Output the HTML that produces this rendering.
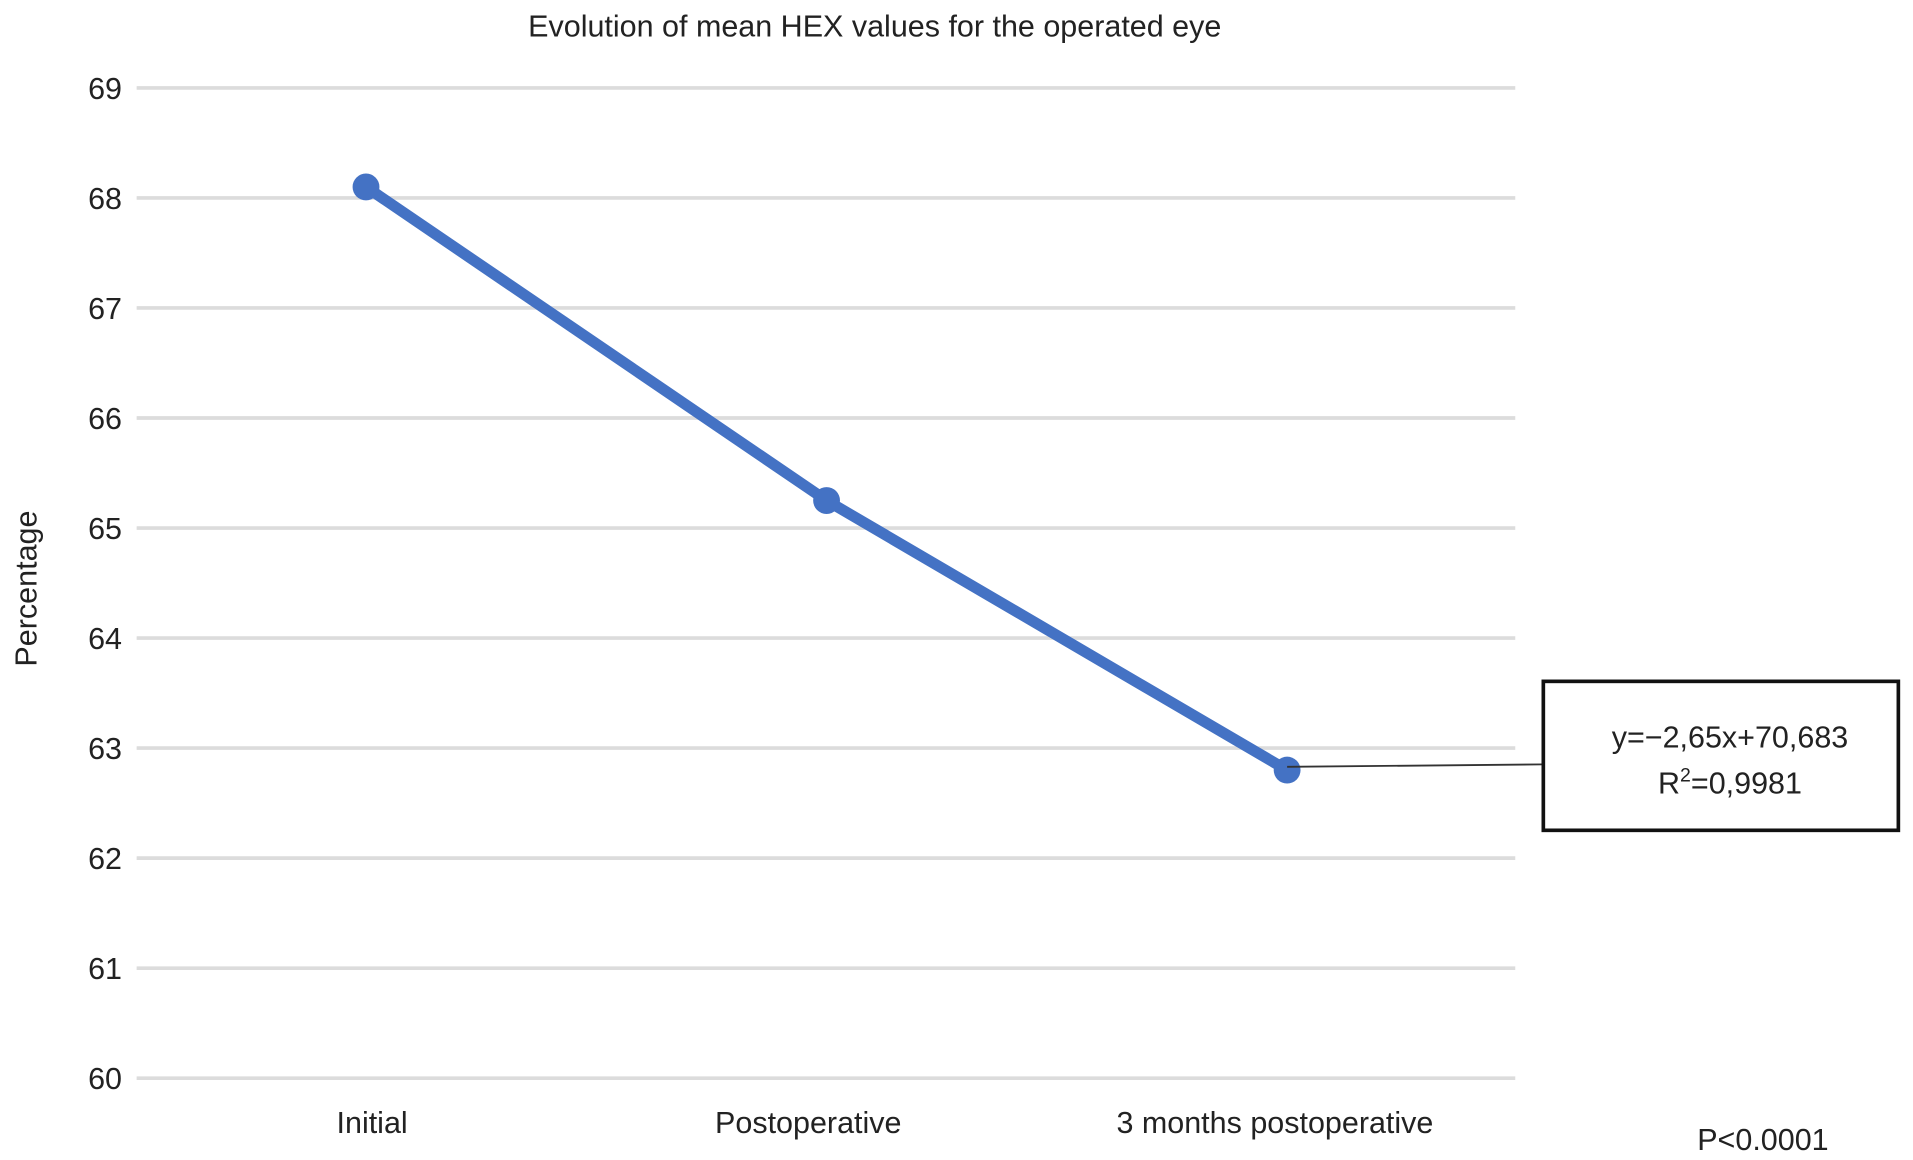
<!DOCTYPE html>
<html><head><meta charset="utf-8"><style>html,body{margin:0;padding:0;background:#fff}svg{display:block}text{font-family:"Liberation Sans",sans-serif;fill:#222}</style></head>
<body>
<svg id="chart" width="1913" height="1160" viewBox="0 0 1568 950" preserveAspectRatio="none" xmlns="http://www.w3.org/2000/svg">
<text x="717" y="30" font-size="25" text-anchor="middle">Evolution of mean HEX values for the operated eye</text>
<text transform="translate(30,482) rotate(-90)" font-size="25" text-anchor="middle">Percentage</text>
<g id="grid"></g><g id="series"></g>
<line x1="1055" y1="628" x2="1265" y2="626" stroke="#333" stroke-width="1.5"/>
<rect x="1265" y="558" width="291" height="122" fill="#fff" stroke="#111" stroke-width="3"/>
<text x="1418" y="612" font-size="25" text-anchor="middle">y=−2,65x+70,683</text>
<text x="1418" y="650" font-size="25" text-anchor="middle">R<tspan dy="-10" font-size="16">2</tspan><tspan dy="10">=0,9981</tspan></text>
<text x="1445" y="942" font-size="25" text-anchor="middle">P&lt;0.0001</text>
</svg>
<script>
const categories=["Initial","Postoperative","3 months postoperative"];
const values=[68.1,65.25,62.8];
const yTicks=[60,61,62,63,64,65,66,67,68,69];
const NS="http://www.w3.org/2000/svg";
function yS(v){return 883-(v-60)*(883-72)/9;}
function xS(i){return 300+i*377.5;}
const g=document.getElementById('grid'),s=document.getElementById('series');
yTicks.forEach(t=>{
 const l=document.createElementNS(NS,'line');
 
 
 l.setAttribute('x1',112);l.setAttribute('x2',1242);l.setAttribute('y1',yS(t));l.setAttribute('y2',yS(t));
 l.setAttribute('stroke','#dcdcdc');l.setAttribute('stroke-width',3);g.appendChild(l);
 const tx=document.createElementNS(NS,'text');
 
 
 tx.setAttribute('x',100);tx.setAttribute('y',yS(t)+9);tx.setAttribute('font-size',25);tx.setAttribute('text-anchor','end');tx.textContent=t;g.appendChild(tx);
});
const labOff=[5,-15,-10];
categories.forEach((c,i)=>{
 const tx=document.createElementNS(NS,'text');
 
 
 tx.setAttribute('x',xS(i)+labOff[i]);tx.setAttribute('y',928);tx.setAttribute('font-size',25);tx.setAttribute('text-anchor','middle');tx.textContent=c;g.appendChild(tx);
});
const p=document.createElementNS(NS,'polyline');


p.setAttribute('points',values.map((v,i)=>xS(i)+','+yS(v)).join(' '));
p.setAttribute('fill','none');p.setAttribute('stroke','#4472c4');p.setAttribute('stroke-width',9);s.appendChild(p);
values.forEach((v,i)=>{
 const c=document.createElementNS(NS,'circle');
 
 
 c.setAttribute('cx',xS(i));c.setAttribute('cy',yS(v));c.setAttribute('r',11);c.setAttribute('fill','#4472c4');s.appendChild(c);
});
</script>
</body></html>
